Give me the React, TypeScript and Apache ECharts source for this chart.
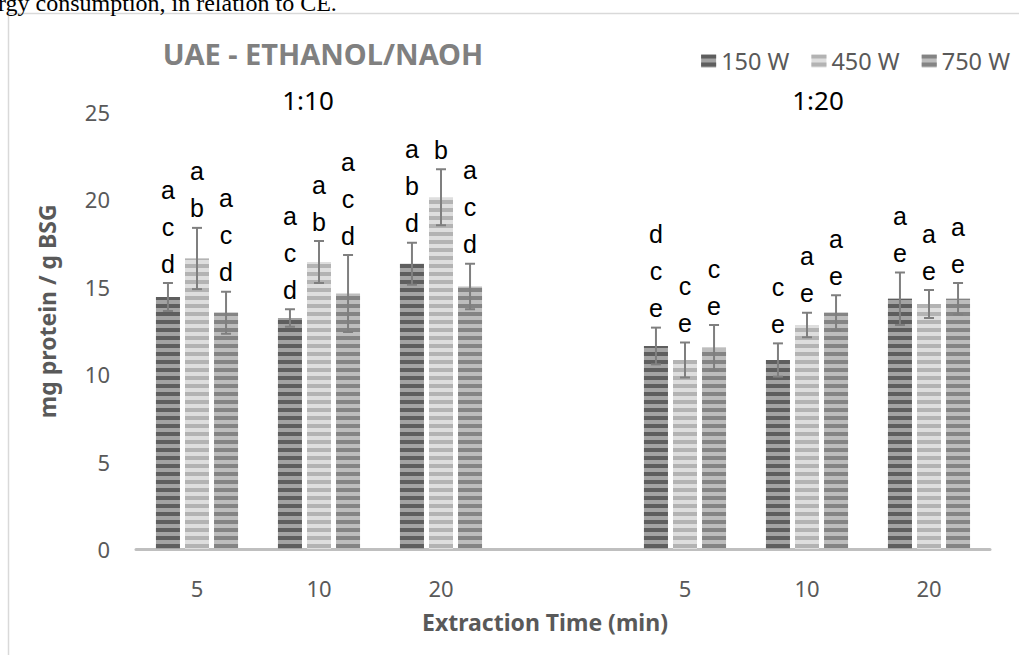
import React, { useEffect, useRef } from "react";
import * as echarts from "echarts";

const categories = ["5", "10", "20", "", "5", "10", "20"];
const seriesNames = ["150 W", "450 W", "750 W"];

const w150 = [14.4, 13.2, 16.3, null, 11.6, 10.8, 14.3];
const w450 = [16.6, 16.4, 20.1, null, 10.8, 12.8, 14.0];
const w750 = [13.5, 14.6, 15.0, null, 11.5, 13.5, 14.3];

const err150 = [0.8, 0.5, 1.2, null, 1.05, 0.95, 1.5];
const err450 = [1.75, 1.2, 1.6, null, 1.0, 0.7, 0.8];
const err750 = [1.2, 2.2, 1.3, null, 1.3, 1.0, 0.9];

const letters150 = [["a", "c", "d"], ["a", "c", "d"], ["a", "b", "d"], [], ["d", "c", "e"], ["c", "e"], ["a", "e"]];
const letters450 = [["a", "b"], ["a", "b"], ["b"], [], ["c", "e"], ["a", "e"], ["a", "e"]];
const letters750 = [["a", "c", "d"], ["a", "c", "d"], ["a", "c", "d"], [], ["c", "e"], ["a", "e"], ["a", "e"]];

const yTicks = [0, 5, 10, 15, 20, 25];
const groupLabels = ["1:10", "1:20"];
const titleText = "UAE - ETHANOL/NAOH";
const docText = "rgy consumption, in relation to CE.";

const FONT = "'Noto Sans', 'Open Sans', sans-serif";
const BAR_W = 24;
const BAR_GAP = 0.21;
const STEP = BAR_W * (1 + BAR_GAP);

const barColors = [
  { base: "#a3a3a3", stripe: "#5e5e5e" },
  { base: "#dedede", stripe: "#b3b3b3" },
  { base: "#bdbdbd", stripe: "#848484" },
];

export default function App() {
  const ref = useRef<HTMLDivElement>(null);
  useEffect(() => {
    document.body.style.margin = "0";
    const chart = echarts.init(ref.current!, null, { renderer: "svg" });
    const means = [w150, w450, w750];
    const errs = [err150, err450, err750];
    const letters = [letters150, letters450, letters750];

    const barSeries = means.map((m, k) => ({
      type: "bar",
      name: seriesNames[k],
      data: m.map((v) => (v == null ? "-" : v)),
      barWidth: BAR_W,
      barGap: `${BAR_GAP * 100}%`,
      itemStyle: {
        color: barColors[k].base,
        decal: {
          symbol: "rect",
          symbolSize: 1,
          dashArrayX: [1, 0],
          dashArrayY: [4, 4],
          rotation: 0,
          color: barColors[k].stripe,
        },
      },
      z: 2,
    }));

    const errSeries = means.map((m, k) => {
      const data: number[][] = [];
      m.forEach((v, i) => {
        if (v != null) data.push([i, v, errs[k][i] as number]);
      });
      return {
        type: "custom",
        name: `err-${k}`,
        data,
        z: 5,
        encode: { x: 0, y: 1 },
        renderItem: (params: any, api: any) => {
          const i = api.value(0);
          const v = api.value(1);
          const e = api.value(2);
          const top = api.coord([i, v + e]);
          const bot = api.coord([i, v - e]);
          const x = top[0] + (k - 1) * STEP;
          const stroke = { stroke: "#7f7f7f", lineWidth: 2 };
          return {
            type: "group",
            children: [
              { type: "line", shape: { x1: x, y1: top[1], x2: x, y2: bot[1] }, style: stroke },
              { type: "line", shape: { x1: x - 5, y1: top[1], x2: x + 5, y2: top[1] }, style: stroke },
              { type: "line", shape: { x1: x - 5, y1: bot[1], x2: x + 5, y2: bot[1] }, style: stroke },
              {
                type: "text",
                x: x,
                y: top[1] - 1,
                style: {
                  text: letters[k][i].join("\n"),
                  font: "25px 'Noto Sans', sans-serif",
                  fontSize: 25,
                  lineHeight: 37,
                  fill: "#000",
                  align: "center",
                  verticalAlign: "bottom",
                },
              },
            ],
          };
        },
      };
    });

    chart.setOption({
      animation: false,
      backgroundColor: "#fff",
      grid: { left: 136, right: 29, top: 111.5, bottom: 106 },
      legend: {
        data: seriesNames,
        right: 4,
        top: 44,
        itemWidth: 15,
        itemHeight: 13,
        itemGap: 22,
        icon: "rect",
        textStyle: { fontSize: 23.5, color: "#595959", fontFamily: FONT },
      },
      xAxis: {
        type: "category",
        data: categories,
        axisLine: { lineStyle: { color: "#bfbfbf", width: 3 } },
        axisTick: { show: false },
        axisLabel: { fontSize: 22, color: "#595959", fontFamily: FONT, margin: 28 },
        name: "Extraction Time (min)",
        nameLocation: "middle",
        nameGap: 61,
        nameTextStyle: {
          fontSize: 23,
          fontWeight: "bold",
          color: "#595959",
          fontFamily: FONT,
          padding: [0, 36, 0, 0],
        },
      },
      yAxis: {
        type: "value",
        min: yTicks[0],
        max: yTicks[yTicks.length - 1],
        interval: 5,
        splitLine: { show: false },
        axisLine: { show: false },
        axisTick: { show: false },
        axisLabel: { fontSize: 22, color: "#595959", fontFamily: FONT, margin: 26 },
        name: "mg protein / g BSG",
        nameLocation: "middle",
        nameGap: 78,
        nameTextStyle: {
          fontSize: 23,
          fontWeight: "bold",
          color: "#595959",
          fontFamily: FONT,
          padding: [0, 0, 0, 38],
        },
      },
      graphic: [
        {
          type: "rect",
          z: -10,
          shape: { x: 8.5, y: 13.5, width: 1200, height: 800 },
          style: { fill: "none", stroke: "#d9d9d9", lineWidth: 1.5 },
        },
        {
          type: "text",
          x: -2,
          y: 3,
          style: {
            text: docText,
            fontSize: 24,
            fontFamily: "'Liberation Serif', serif",
            fill: "#000",
            verticalAlign: "middle",
          },
        },
        {
          type: "text",
          x: 323,
          y: 53,
          style: {
            text: titleText,
            fontSize: 29,
            fontWeight: "bold",
            fontFamily: FONT,
            fill: "#808080",
            align: "center",
            verticalAlign: "middle",
          },
        },
        {
          type: "text",
          x: 308,
          y: 100,
          style: { text: groupLabels[0], fontSize: 26, fontFamily: FONT, fill: "#000", align: "center", verticalAlign: "middle" },
        },
        {
          type: "text",
          x: 818,
          y: 100,
          style: { text: groupLabels[1], fontSize: 26, fontFamily: FONT, fill: "#000", align: "center", verticalAlign: "middle" },
        },
      ],
      series: [...barSeries, ...errSeries],
    });
    return () => chart.dispose();
  }, []);
  return <div ref={ref} style={{ position: "fixed", left: 0, top: 0, width: 1019, height: 655 }} />;
}
